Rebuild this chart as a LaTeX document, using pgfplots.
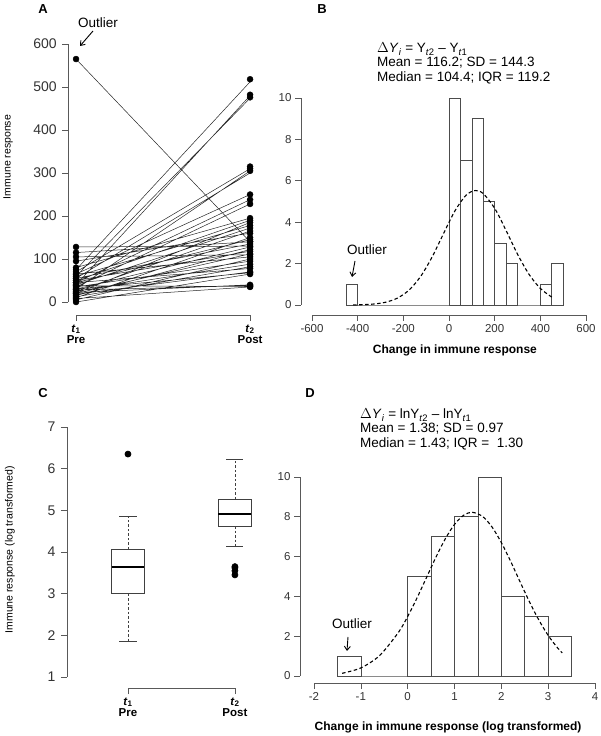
\documentclass[border=0pt]{standalone}
\usepackage{fontspec}
\setmainfont{Liberation Sans}
\usepackage{pgfplots}
\pgfplotsset{compat=1.18}
\usepgfplotslibrary{statistics}
\usetikzlibrary{arrows.meta}
\definecolor{axc}{gray}{0.35}
\definecolor{txc}{gray}{0.2}
\pgfplotsset{
  rstyle/.style={
    scale only axis, clip=false,
    axis lines*=left,
    axis line style={draw=none},
    tick align=outside,
    major tick length=6pt,
    every tick/.style={axc, line width=0.6pt},
    /pgf/number format/assume math mode=true,
    tick label style={text=txc},
    anchor=south west,
  }
}
\newcommand\fs[1]{\fontsize{#1}{#1}\selectfont}
\begin{document}
\begin{tikzpicture}
\useasboundingbox (0,0) rectangle (600pt,736pt);

% ---------------- Panel A ----------------
\begin{axis}[rstyle, at={(68.2pt,421pt)}, width=189.7pt, height=271pt,
  xmin=0.955, xmax=2.045, ymin=-30.2, ymax=600,
  xtick={1,2},
  xticklabels={{\textbf{\textit{t}\textsubscript{1}}\\\textbf{Pre}},{\textbf{\textit{t}\textsubscript{2}}\\\textbf{Post}}},
  xticklabel style={align=center, font=\fs{11.5}, text=black},
  ytick={0,100,...,600},
  yticklabel style={font=\fs{14}, xshift=-2pt},
  ylabel={Immune response},
  ylabel style={at={(axis description cs:-0.317,0.583)}, anchor=center, font=\fs{10.5}},
]
\draw[axc, line width=0.6pt] (axis cs:0.955,0) -- (axis cs:0.955,600);
\draw[axc, line width=0.6pt] (axis cs:1,-30.2) -- (axis cs:2,-30.2);
\addplot[black!85, line width=0.5pt, unbounded coords=jump] coordinates {
(1,565)(2,140)(1,nan)
(1,75)(2,512)(1,nan)
(1,40)(2,480)(1,nan)
(1,60)(2,474)(1,nan)
(1,70)(2,310)(1,nan)
(1,30)(2,305)(1,nan)
(1,55)(2,300)(1,nan)
(1,128)(2,130)(1,nan)
(1,105)(2,110)(1,nan)
(1,65)(2,250)(1,nan)
(1,45)(2,238)(1,nan)
(1,35)(2,228)(1,nan)
(1,80)(2,195)(1,nan)
(1,50)(2,190)(1,nan)
(1,20)(2,185)(1,nan)
(1,60)(2,178)(1,nan)
(1,40)(2,172)(1,nan)
(1,25)(2,165)(1,nan)
(1,95)(2,160)(1,nan)
(1,10)(2,150)(1,nan)
(1,45)(2,145)(1,nan)
(1,115)(2,140)(1,nan)
(1,55)(2,135)(1,nan)
(1,30)(2,128)(1,nan)
(1,15)(2,122)(1,nan)
(1,50)(2,118)(1,nan)
(1,20)(2,112)(1,nan)
(1,65)(2,105)(1,nan)
(1,5)(2,100)(1,nan)
(1,35)(2,95)(1,nan)
(1,25)(2,88)(1,nan)
(1,12)(2,82)(1,nan)
(1,45)(2,78)(1,nan)
(1,18)(2,70)(1,nan)
(1,30)(2,68)(1,nan)
(1,0)(2,65)(1,nan)
(1,22)(2,40)(1,nan)
(1,28)(2,38)(1,nan)
(1,8)(2,35)(1,nan)
(1,38)(2,36)
};
\addplot[only marks, mark=*, mark size=3pt, black] coordinates {
(1,565)(1,75)(1,40)(1,60)(1,70)(1,30)(1,55)(1,128)(1,105)(1,65)
(1,45)(1,35)(1,80)(1,50)(1,20)(1,60)(1,40)(1,25)(1,95)(1,10)
(1,45)(1,115)(1,55)(1,30)(1,15)(1,50)(1,20)(1,65)(1,5)(1,35)
(1,25)(1,12)(1,45)(1,18)(1,30)(1,0)(1,22)(1,28)(1,8)(1,38)
};
\addplot[only marks, mark=*, mark size=3pt, black] coordinates {
(2,140)(2,518)(2,482)(2,476)(2,310)(2,305)(2,315)(2,130)(2,110)(2,250)
(2,238)(2,228)(2,195)(2,190)(2,185)(2,178)(2,172)(2,165)(2,160)(2,150)
(2,145)(2,140)(2,135)(2,128)(2,122)(2,118)(2,112)(2,105)(2,100)(2,95)
(2,88)(2,82)(2,78)(2,70)(2,68)(2,65)(2,40)(2,38)(2,35)(2,36)
};
\end{axis}

% ---------------- Panel B ----------------
\begin{axis}[rstyle, at={(301pt,421pt)}, width=285pt, height=217pt,
  xmin=-648.2, xmax=600, ymin=-0.483, ymax=10,
  xtick={-600,-400,...,600}, ytick={0,2,...,10},
  tick label style={font=\fs{11.5}},
  xlabel={\textbf{Change in immune response}},
  xlabel style={at={(axis description cs:0.540,-0.161)}, anchor=center, font=\fs{12}},
]
\draw[axc, line width=0.6pt] (axis cs:-648.2,0) -- (axis cs:-648.2,10);
\draw[axc, line width=0.6pt] (axis cs:-600,-0.483) -- (axis cs:600,-0.483);
\addplot[ybar interval, draw=black!70, fill=white, line width=0.6pt] coordinates {
(-450,1)(-400,0)(-350,0)(-300,0)(-250,0)(-200,0)(-150,0)(-100,0)(-50,0)
(0,10)(50,7)(100,9)(150,5)(200,3)(250,2)(300,0)(350,0)(400,1)(450,2)(500,0)
};
\addplot[black, line width=1.1pt, dash pattern=on 3.5pt off 2.5pt, smooth] coordinates {
(-420,0.006)(-375,0.017)(-325,0.052)(-275,0.140)(-225,0.338)(-175,0.722)
(-125,1.368)(-75,2.298)(-25,3.426)(25,4.529)(75,5.309)(116,5.53)(150,5.38)
(200,4.672)(250,3.598)(300,2.457)(350,1.488)(400,0.800)(450,0.381)
};
\end{axis}

% ---------------- Panel C ----------------
\begin{axis}[rstyle, at={(67pt,48pt)}, width=200pt, height=261pt,
  xmin=0.4299, xmax=2.3, ymin=0.736, ymax=7,
  xtick={1,2},
  xticklabels={{\textbf{\textit{t}\textsubscript{1}}\\\textbf{Pre}},{\textbf{\textit{t}\textsubscript{2}}\\\textbf{Post}}},
  xticklabel style={align=center, font=\fs{11.5}, text=black},
  ytick={1,...,7},
  yticklabel style={font=\fs{14}, xshift=-2pt},
  ylabel={Immune response (log transformed)},
  ylabel style={at={(axis description cs:-0.285,0.529)}, anchor=center, font=\fs{10.5}},
]
\draw[axc, line width=0.6pt] (axis cs:0.4299,1) -- (axis cs:0.4299,7);
\draw[axc, line width=0.6pt] (axis cs:1,0.736) -- (axis cs:2,0.736);
\addplot[boxplot/draw direction=y,
  boxplot prepared={median=3.64, upper quartile=4.07, lower quartile=3.0,
    upper whisker=4.86, lower whisker=1.86, draw position=1,
    box extend=0.308, whisker extend=0.16},
  draw=black!75, fill=white, line width=0.7pt,
  boxplot/every whisker/.style={dash pattern=on 2.5pt off 2pt},
  boxplot/every median/.style={line width=2.2pt, black},
  mark=*, mark size=3pt, mark options={solid, fill=black, draw=black}]
  table[row sep=\\, y index=0] {y\\ 6.35\\};
\addplot[boxplot/draw direction=y,
  boxplot prepared={median=4.91, upper quartile=5.27, lower quartile=4.62,
    upper whisker=6.23, lower whisker=4.14, draw position=2,
    box extend=0.308, whisker extend=0.16},
  draw=black!75, fill=white, line width=0.7pt,
  boxplot/every whisker/.style={dash pattern=on 2.5pt off 2pt},
  boxplot/every median/.style={line width=2.2pt, black},
  mark=*, mark size=3pt, mark options={solid, fill=black, draw=black}]
  table[row sep=\\, y index=0] {y\\ 3.45\\ 3.55\\ 3.62\\ 3.65\\};
% solid whisker caps
\addplot[black!75, line width=0.7pt] coordinates {(0.92,1.86)(1.08,1.86)};
\addplot[black!75, line width=0.7pt] coordinates {(0.92,4.86)(1.08,4.86)};
\addplot[black!75, line width=0.7pt] coordinates {(1.92,4.14)(2.08,4.14)};
\addplot[black!75, line width=0.7pt] coordinates {(1.92,6.23)(2.08,6.23)};
\end{axis}

% ---------------- Panel D ----------------
\begin{axis}[rstyle, at={(300pt,53pt)}, width=295pt, height=206pt,
  xmin=-2.299, xmax=4, ymin=-0.352, ymax=10,
  xtick={-2,...,4}, ytick={0,2,...,10},
  tick label style={font=\fs{11.5}},
  xlabel={\textbf{Change in immune response (log transformed)}},
  xlabel style={at={(axis description cs:0.502,-0.2136)}, anchor=center, font=\fs{12}},
]
\draw[axc, line width=0.6pt] (axis cs:-2.299,0) -- (axis cs:-2.299,10);
\draw[axc, line width=0.6pt] (axis cs:-2,-0.352) -- (axis cs:4,-0.352);
\addplot[ybar interval, draw=black!70, fill=white, line width=0.6pt] coordinates {
(-1.5,1)(-1,0)(-0.5,0)(0,5)(0.5,7)(1,8)(1.5,10)(2,4)(2.5,3)(3,2)(3.5,0)
};
\addplot[black, line width=1.1pt, dash pattern=on 3.5pt off 2.5pt, smooth] coordinates {
(-1.4,0.135)(-1.0,0.405)(-0.6,1.025)(-0.2,2.183)(0.0,2.990)(0.2,3.925)
(0.4,4.938)(0.6,5.954)(0.8,6.879)(1.0,7.618)(1.2,8.085)(1.38,8.226)
(1.6,8.017)(1.8,7.490)(2.0,6.706)(2.2,5.755)(2.4,4.732)(2.6,3.730)
(2.8,2.817)(3.0,2.039)(3.2,1.415)(3.3,1.160)
};
\end{axis}

% ---------------- Annotations ----------------
\node[font=\bfseries\fs{13}] at (43pt,727pt) {A};
\node[font=\bfseries\fs{13}] at (322pt,727pt) {B};
\node[font=\bfseries\fs{13}] at (43pt,343pt) {C};
\node[font=\bfseries\fs{13}] at (310pt,343pt) {D};

\node[font=\fs{13.5}] at (98pt,713pt) {Outlier};
\draw[black, line width=0.9pt, -{Straight Barb[length=4pt,width=6pt]}] (93pt,705pt) -- (80pt,690pt);
\node[font=\fs{13.5}] at (367pt,486pt) {Outlier};
\draw[black, line width=0.9pt, -{Straight Barb[length=4pt,width=6pt]}] (355pt,475pt) -- (352pt,459pt);
\node[font=\fs{13.5}] at (352pt,112pt) {Outlier};
\draw[black, line width=0.9pt, -{Straight Barb[length=4pt,width=6pt]}] (348pt,99pt) -- (347pt,85pt);

\node[font=\fs{13.5}, anchor=base west, inner sep=0pt] at (377pt,683pt) {$\Delta$\textit{Y}\textsubscript{\textit{i}} = Y\textsubscript{\textit{t}2} -- Y\textsubscript{\textit{t}1}};
\node[font=\fs{13.5}, anchor=base west, inner sep=0pt] at (377pt,669pt) {Mean = 116.2; SD = 144.3};
\node[font=\fs{13.5}, anchor=base west, inner sep=0pt] at (377pt,654pt) {Median = 104.4; IQR = 119.2};

\node[font=\fs{13.5}, anchor=base west, inner sep=0pt] at (360pt,317pt) {$\Delta$\textit{Y}\textsubscript{\textit{i}} = lnY\textsubscript{\textit{t}2} -- lnY\textsubscript{\textit{t}1}};
\node[font=\fs{13.5}, anchor=base west, inner sep=0pt] at (360pt,303pt) {Mean = 1.38; SD = 0.97};
\node[font=\fs{13.5}, anchor=base west, inner sep=0pt] at (360pt,288pt) {Median = 1.43; IQR =\ \ 1.30};
\end{tikzpicture}
\end{document}
